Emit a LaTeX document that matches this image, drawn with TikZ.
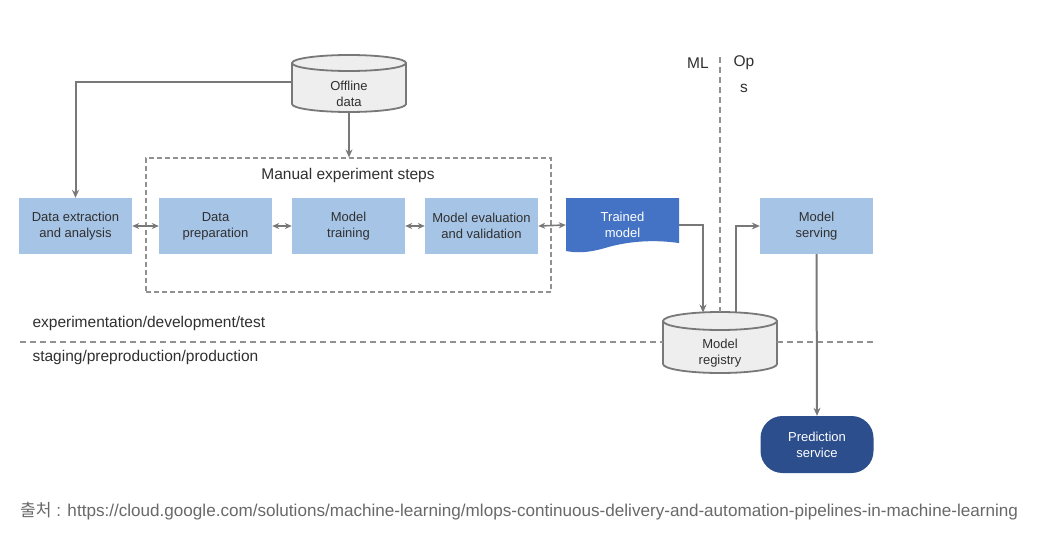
\documentclass[tikz,border=0pt]{standalone}
\usepackage{fontspec}
\setmainfont{Liberation Sans}
\newfontfamily\kofont{Noto Sans CJK KR}
\usetikzlibrary{arrows.meta}
\definecolor{boxblue}{RGB}{166,196,230}
\definecolor{trainblue}{RGB}{68,114,196}
\definecolor{predblue}{RGB}{44,78,140}
\definecolor{linegray}{RGB}{120,120,120}
\definecolor{dashgray}{RGB}{145,145,145}
\definecolor{cylfill}{RGB}{238,238,238}
\definecolor{txtgray}{RGB}{48,48,48}
\definecolor{footgray}{RGB}{105,105,105}
\tikzset{
  stepbox/.style={fill=boxblue, minimum width=113pt, minimum height=56pt, inner sep=0pt, align=center, text=txtgray, font=\fontsize{13}{16}\selectfont},
  conn/.style={draw=linegray, line width=2pt, -{Stealth[length=8pt,width=7pt]}},
  dbl/.style={draw=linegray, line width=1.6pt, {Stealth[length=7pt,width=6pt]}-{Stealth[length=7pt,width=6pt]}},
  cyl/.style={draw=linegray, line width=1.8pt, fill=cylfill},
  bigtext/.style={font=\fontsize{15.5}{18}\selectfont, text=txtgray},
  sep/.style={draw=dashgray, line width=1.2pt, dash pattern=on 6pt off 4pt},
}
\begin{document}
\begin{tikzpicture}[x=1pt,y=-1pt]
\useasboundingbox[fill=white] (0,0) rectangle (1054,546);

% Offline data cylinder
\path[cyl] (292,63) -- (292,104) arc[start angle=180,end angle=0,x radius=57,y radius=8] -- (406,63) arc[start angle=0,end angle=-180,x radius=57,y radius=8] -- cycle;
\draw[draw=linegray, line width=1.8pt] (292,63) arc[start angle=180,end angle=0,x radius=57,y radius=8];
\node[align=center, text=txtgray, font=\fontsize{13}{16}\selectfont] (offline) at (349,94) {Offline\\data};
\coordinate (offL) at (292,82);
\coordinate (offB) at (349,112);

% Manual experiment box
\node[draw=dashgray, line width=1.2pt, dash pattern=on 5pt off 3pt, minimum width=405pt, minimum height=134pt, inner sep=0pt] (manual) at (348.5,225) {};
\node[bigtext] (mtitle) at (348,175) {Manual experiment steps};

% step boxes
\node[stepbox] (extract) at (75.5,226) {Data extraction\\and analysis};
\node[stepbox] (prep) at (215.5,226) {Data\\preparation};
\node[stepbox] (train) at (348.5,226) {Model\\training};
\node[stepbox] (eval) at (481.5,226) {Model evaluation\\and validation};
\node[stepbox] (serving) at (816.5,226) {Model\\serving};

% Trained model (document shape)
\path[fill=trainblue] (566,198) -- (679,198) -- (679,243) .. controls (650,239) and (625,242) .. (605,248) .. controls (588,253) and (576,253) .. (566,251) -- cycle;
\node[align=center, text=white, font=\fontsize{13}{16}\selectfont, minimum width=113pt, minimum height=56pt, inner sep=0pt] (trained) at (622.5,225) {Trained\\model};

% Model registry cylinder
\path[cyl] (663,321) -- (663,364) arc[start angle=180,end angle=0,x radius=57,y radius=9] -- (777,321) arc[start angle=0,end angle=-180,x radius=57,y radius=9] -- cycle;
\draw[draw=linegray, line width=1.8pt] (663,321) arc[start angle=180,end angle=0,x radius=57,y radius=9];
\node[align=center, text=txtgray, font=\fontsize{13}{16}\selectfont] (registry) at (720,353) {Model\\registry};
\coordinate (regIn) at (703,312.5);
\coordinate (regOut) at (736,312.5);
\coordinate (regTop) at (720,312);
\coordinate (regL) at (663,342);
\coordinate (regR) at (777,342);

% Prediction service
\node[fill=predblue, rounded corners=22pt, minimum width=113pt, minimum height=57pt, inner sep=0pt, align=center, text=white, font=\fontsize{13}{16}\selectfont] (pred) at (817,444.5) {Prediction\\service};

% ML / Ops
\node[bigtext] (ml) at (698,63) {ML};
\node[bigtext] (op) at (744,63) {Op};
\node[bigtext] (s) at (744,88) {s};
\coordinate (mlTop) at (720,57);
\draw[sep] (mlTop) -- (regTop);

% horizontal separator
\coordinate (hL) at (20,342);
\coordinate (hR) at (875,342);
\draw[sep] (hL) -- (regL);
\draw[sep] (regR) -- (hR);
\node[bigtext, anchor=west] (exptxt) at (29,323) {experimentation/development/test};
\node[bigtext, anchor=west] (stagetxt) at (29,357) {staging/preproduction/production};

% connectors
\draw[conn] (offL) -| (extract.north);
\draw[conn] (offB) -- (offB |- manual.north);
\draw[dbl] (extract.east) -- (prep.west);
\draw[dbl] (prep.east) -- (train.west);
\draw[dbl] (train.east) -- (eval.west);
\draw[dbl] (eval.east) -- (trained.west);
\draw[conn] (trained.east) -| (regIn);
\draw[conn] (regOut) |- (serving.west);
\draw[conn] (serving.south) -- (pred.north);

% footer
\node[anchor=west, text=footgray, font=\fontsize{17.1}{20}\selectfont, inner sep=0pt] (foot) at (20,511) {{\kofont 출처} : https://cloud.google.com/solutions/machine-learning/mlops-continuous-delivery-and-automation-pipelines-in-machine-learning};
\end{tikzpicture}
\end{document}
